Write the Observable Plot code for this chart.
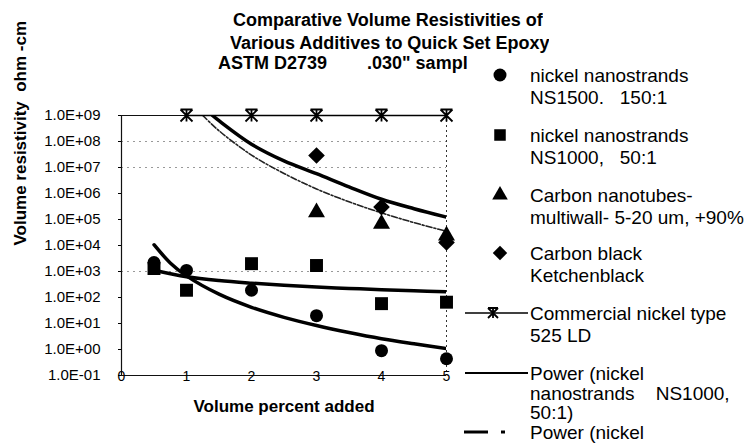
<!DOCTYPE html>
<html>
<head>
<meta charset="utf-8">
<script src="https://cdn.jsdelivr.net/npm/d3@7"></script>
<script src="https://cdn.jsdelivr.net/npm/@observablehq/plot@0.6"></script>
<style>
  body { margin: 0; background: #fff; }
  #wrap { position: relative; width: 752px; height: 445px; overflow: hidden; background: #fff;
          font-family: Arial, "Liberation Sans", sans-serif; color: #000; }
  #chart { position: absolute; left: 0; top: 0; }
  .t { position: absolute; white-space: pre; font-weight: bold; font-size: 18px; line-height: 22px; overflow: hidden; }
  .lg { position: absolute; white-space: pre; font-size: 19px; line-height: 19px; }
  svg.sw { position: absolute; overflow: visible; }
</style>
</head>
<body>
<div id="wrap"><div id="chart"></div></div>
<script>
// ---- data ----
const xTicks = [0, 1, 2, 3, 4, 5];
const xTickLabels = ["0", "1", "2", "3", "4", "5"];
const yTicks = [1e-1, 1e0, 1e1, 1e2, 1e3, 1e4, 1e5, 1e6, 1e7, 1e8, 1e9];
const yTickLabels = ["1.0E-01", "1.0E+00", "1.0E+01", "1.0E+02", "1.0E+03", "1.0E+04",
                     "1.0E+05", "1.0E+06", "1.0E+07", "1.0E+08", "1.0E+09"];
const gridValues = [1e8, 1e7, 1e3];

const volume = [0.5, 1, 2, 3, 4, 5];
const ns1500 = [2200, 1100, 190, 20, 0.9, 0.44];
const ns1000 = [1300, 190, 2000, 1700, 58, 66];
const cntX = [3, 4, 5];
const nanotubes = [1.9e5, 6.8e4, 2.4e4];
const cbX = [3, 4, 5];
const carbonBlack = [2.9e7, 3e5, 1.3e4];
const commercialX = [1, 2, 3, 4, 5];
const commercial = [1e9, 1e9, 1e9, 1e9, 1e9];

// trend lines
const trendNs1500X = [0.5, 0.75, 1, 1.5, 2, 2.5, 3, 3.5, 4, 4.5, 5];
const trendNs1500 = [10700, 2140, 676, 134, 42, 17.3, 8.4, 4.5, 2.6, 1.65, 1.08];
const trendNs1000X = [0.5, 1, 1.5, 2, 2.5, 3, 3.5, 4, 4.5, 5];
const trendNs1000 = [1120, 630, 447, 355, 295, 252, 224, 200, 182, 166];
const trendCbX = [1.4, 1.5, 2, 2.5, 3, 3.5, 4, 4.5, 5];
const trendCb = [1e9, 6.3e8, 7.9e7, 1.8e7, 5.8e6, 1.8e6, 6e5, 2.6e5, 1.23e5];
const trendCntX = [1.25, 1.5, 2, 2.5, 3, 3.5, 4, 4.5, 5];
const trendCnt = [1e9, 2.6e8, 3e7, 5.9e6, 1.5e6, 4.8e5, 1.8e5, 7.6e4, 3.5e4];

const titleLines = ["Comparative Volume Resistivities of", "Various Additives to Quick Set Epoxy",
                    'ASTM D2739        .030" sampl'];
const xLabel = "Volume percent added";
const yLabel = "Volume resistivity  ohm -cm";
const legendLabels = [
  ["nickel nanostrands", "NS1500.   150:1"],
  ["nickel nanostrands", "NS1000,   50:1"],
  ["Carbon nanotubes-", "multiwall- 5-20 um, +90%"],
  ["Carbon black", "Ketchenblack"],
  ["Commercial nickel type", "525 LD"],
  ["Power (nickel", "nanostrands    NS1000,", "50:1)"],
  ["Power (nickel"]
];

// ---- helpers ----
const pts = (xs, ys) => xs.map((x, i) => ({x, y: ys[i]}));
const starSymbol = {
  draw(ctx, size) {
    const r = Math.sqrt(size / Math.PI);
    ctx.moveTo(-r, -r); ctx.lineTo(r, r);
    ctx.moveTo(-r, r); ctx.lineTo(r, -r);
    ctx.moveTo(0, -r); ctx.lineTo(0, r);
    ctx.moveTo(-r, -r); ctx.lineTo(r, -r);
  }
};

const chart = Plot.plot({
  width: 752, height: 445,
  marginLeft: 121, marginRight: 306, marginTop: 115, marginBottom: 70,
  x: {domain: [0, 5], axis: null},
  y: {type: "log", domain: [0.1, 1e9], axis: null},
  style: {fontFamily: "Arial, 'Liberation Sans', sans-serif", fontSize: "15px", color: "#000", background: "transparent", overflow: "visible"},
  marks: [
    Plot.ruleY(gridValues, {stroke: "#999", strokeDasharray: "2,4", strokeWidth: 1}),
    Plot.ruleX([5], {stroke: "#333", strokeDasharray: "2,3", strokeWidth: 1}),
    Plot.ruleX([0], {stroke: "#111", strokeWidth: 1.2}),
    Plot.ruleY([0.1], {stroke: "#111", strokeWidth: 1.2}),
    Plot.ruleY([1e9], {x1: 0, x2: 1, stroke: "#111", strokeWidth: 1.2}),
    Plot.axisY({ticks: yTicks, tickFormat: d => yTickLabels[yTicks.indexOf(d)], tickSize: 3, tickPadding: 18, fontSize: 15, label: null}),
    Plot.text(xTicks, {x: d => d, frameAnchor: "bottom", text: (d, i) => xTickLabels[i], lineAnchor: "middle", dy: 1, fontSize: 14}),
    Plot.text([xLabel], {frameAnchor: "bottom", dy: 31, lineAnchor: "middle", fontWeight: "bold", fontSize: 17}),
    Plot.text([yLabel], {frameAnchor: "left", rotate: -90, dx: -101, fontWeight: "bold", fontSize: 17}),
    // trend lines
    Plot.line(pts(trendCntX, trendCnt), {x: "x", y: "y", stroke: "#222", strokeWidth: 1.6, strokeDasharray: "6,2,2,2", curve: "catmull-rom", clip: true}),
    Plot.line(pts(trendCbX, trendCb), {x: "x", y: "y", stroke: "#000", strokeWidth: 3.5, curve: "catmull-rom", clip: true}),
    Plot.line(pts(trendNs1000X, trendNs1000), {x: "x", y: "y", stroke: "#000", strokeWidth: 3.5, curve: "catmull-rom", clip: true}),
    Plot.line(pts(trendNs1500X, trendNs1500), {x: "x", y: "y", stroke: "#000", strokeWidth: 3.5, curve: "catmull-rom", clip: true}),
    // commercial nickel series
    Plot.line(pts(commercialX, commercial), {x: "x", y: "y", stroke: "#000", strokeWidth: 1.4}),
    Plot.dot(pts(commercialX, commercial), {x: "x", y: "y", symbol: starSymbol, r: 6, stroke: "#000", strokeWidth: 1.8, fill: "none"}),
    // markers
    Plot.dot(pts(volume, ns1000), {x: "x", y: "y", symbol: "square", r: 7.3, fill: "#000", stroke: "none"}),
    Plot.dot(pts(volume, ns1500), {x: "x", y: "y", symbol: "circle", r: 6.5, fill: "#000", stroke: "none"}),
    Plot.dot(pts(cntX, nanotubes), {x: "x", y: "y", symbol: "triangle", r: 6.3, fill: "#000", stroke: "none"}),
    Plot.dot(pts(cbX, carbonBlack), {x: "x", y: "y", symbol: "diamond2", r: 7.5, fill: "#000", stroke: "none"})
  ]
});
document.getElementById("chart").appendChild(chart);

const wrap = document.getElementById("wrap");
// ---- title ----
const tLeft = [233, 230, 218], tMid = [20, 43, 63];
titleLines.forEach((s, i) => {
  const d = document.createElement("div");
  d.className = "t";
  d.textContent = s;
  d.style.left = tLeft[i] + "px";
  d.style.top = (tMid[i] - 11) + "px";
  wrap.appendChild(d);
});

// ---- legend ----
const lgTextX = 530;
const lgMid = [[75, 97], [135, 157], [195, 217], [253, 275], [313, 335], [373, 393, 412], [432]];
legendLabels.forEach((lines, i) => {
  lines.forEach((s, j) => {
    const d = document.createElement("div");
    d.className = "lg";
    d.textContent = s;
    d.style.left = lgTextX + "px";
    d.style.top = (lgMid[i][j] - 9.5) + "px";
    wrap.appendChild(d);
  });
});
const NS = "http://www.w3.org/2000/svg";
function swatch(cy, html) {
  const s = document.createElementNS(NS, "svg");
  s.setAttribute("class", "sw");
  s.setAttribute("width", 80); s.setAttribute("height", 20);
  s.style.left = "460px"; s.style.top = (cy - 10) + "px";
  s.innerHTML = html;
  wrap.appendChild(s);
}
const sym = (type, r) => d3.symbol(type, Math.PI * r * r)();
swatch(75, `<path transform="translate(40,10)" d="${sym(d3.symbolCircle, 6.5)}" fill="#000"/>`);
swatch(135, `<path transform="translate(40,10)" d="${sym(d3.symbolSquare, 6.5)}" fill="#000"/>`);
swatch(195, `<path transform="translate(40,10)" d="${sym(d3.symbolTriangle, 5.8)}" fill="#000"/>`);
swatch(253, `<path transform="translate(40,10)" d="${sym(d3.symbolDiamond2, 6.5)}" fill="#000"/>`);
swatch(313, `<line x1="5" x2="68" y1="10" y2="10" stroke="#000" stroke-width="1.6"/>
  <path d="M28,5L38,15M28,15L38,5M33,5L33,15M28,5L38,5" stroke="#000" stroke-width="1.8" fill="none"/>`);
swatch(373, `<line x1="5" x2="68" y1="10" y2="10" stroke="#000" stroke-width="2.2"/>`);
swatch(432, `<line x1="4" x2="28" y1="10" y2="10" stroke="#000" stroke-width="3"/>
  <line x1="41" x2="45" y1="10" y2="10" stroke="#000" stroke-width="3"/>`);
</script>
</body>
</html>
